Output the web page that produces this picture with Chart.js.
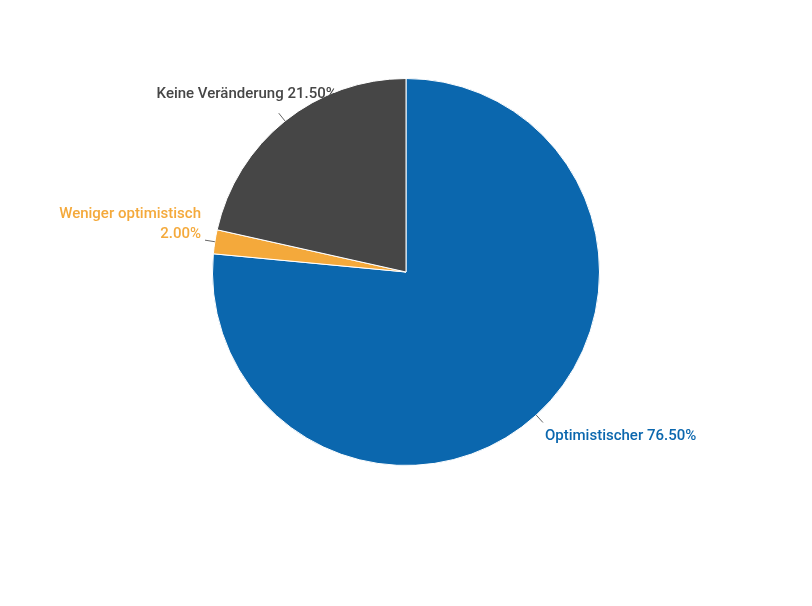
<!DOCTYPE html>
<html>
<head>
<meta charset="utf-8">
<script src="https://cdn.jsdelivr.net/npm/chart.js@4"></script>
<style>
  body { margin: 0; background: #fff; }
  #wrap { width: 812px; height: 606px; }
</style>
</head>
<body>
<div id="wrap"><canvas id="pieChart"></canvas></div>
<script>
// Datos del gráfico
const categories = ['Optimistischer', 'Weniger optimistisch', 'Keine Veränderung'];
const values = [76.5, 2.0, 21.5];
const colors = ['#0b67ae', '#f4a93b', '#464646'];

// Posición del texto respecto al final de la línea guía
const labelOffsets = [
  { dx: 2, dy: 14, align: 'left', lines: i => [categories[i] + ' ' + values[i].toFixed(2) + '%'] },
  { dx: -4, dy: -6, align: 'right', lines: i => [categories[i], values[i].toFixed(2) + '%'] },
  { dx: 58, dy: -19, align: 'right', lines: i => [categories[i] + ' ' + values[i].toFixed(2) + '%'] }
];

const outsideLabels = {
  id: 'outsideLabels',
  afterDraw(chart) {
    const ctx = chart.ctx;
    const meta = chart.getDatasetMeta(0);
    meta.data.forEach((arc, i) => {
      const mid = (arc.startAngle + arc.endAngle) / 2;
      const r = arc.outerRadius;
      const x1 = arc.x + Math.cos(mid) * r;
      const y1 = arc.y + Math.sin(mid) * r;
      const x2 = arc.x + Math.cos(mid) * (r + 10);
      const y2 = arc.y + Math.sin(mid) * (r + 10);
      ctx.save();
      ctx.strokeStyle = '#666';
      ctx.lineWidth = 1;
      ctx.beginPath();
      ctx.moveTo(x1, y1);
      ctx.lineTo(x2, y2);
      ctx.stroke();
      const o = labelOffsets[i];
      const lines = o.lines(i);
      ctx.fillStyle = colors[i];
      ctx.font = '500 15px Roboto';
      ctx.textAlign = o.align;
      ctx.textBaseline = 'middle';
      lines.forEach((t, k) => {
        ctx.fillText(t, x2 + o.dx, y2 + o.dy - (lines.length - 1 - k) * 20);
      });
      ctx.restore();
    });
  }
};

new Chart(document.getElementById('pieChart'), {
  type: 'pie',
  data: {
    labels: categories,
    datasets: [{
      data: values,
      backgroundColor: colors,
      borderColor: '#ffffff',
      borderWidth: 1
    }]
  },
  options: {
    responsive: true,
    maintainAspectRatio: false,
    animation: false,
    layout: { padding: { top: 78, bottom: 140, left: 0, right: 0 } },
    plugins: {
      legend: { display: false },
      tooltip: { enabled: false }
    }
  },
  plugins: [outsideLabels]
});
</script>
</body>
</html>
